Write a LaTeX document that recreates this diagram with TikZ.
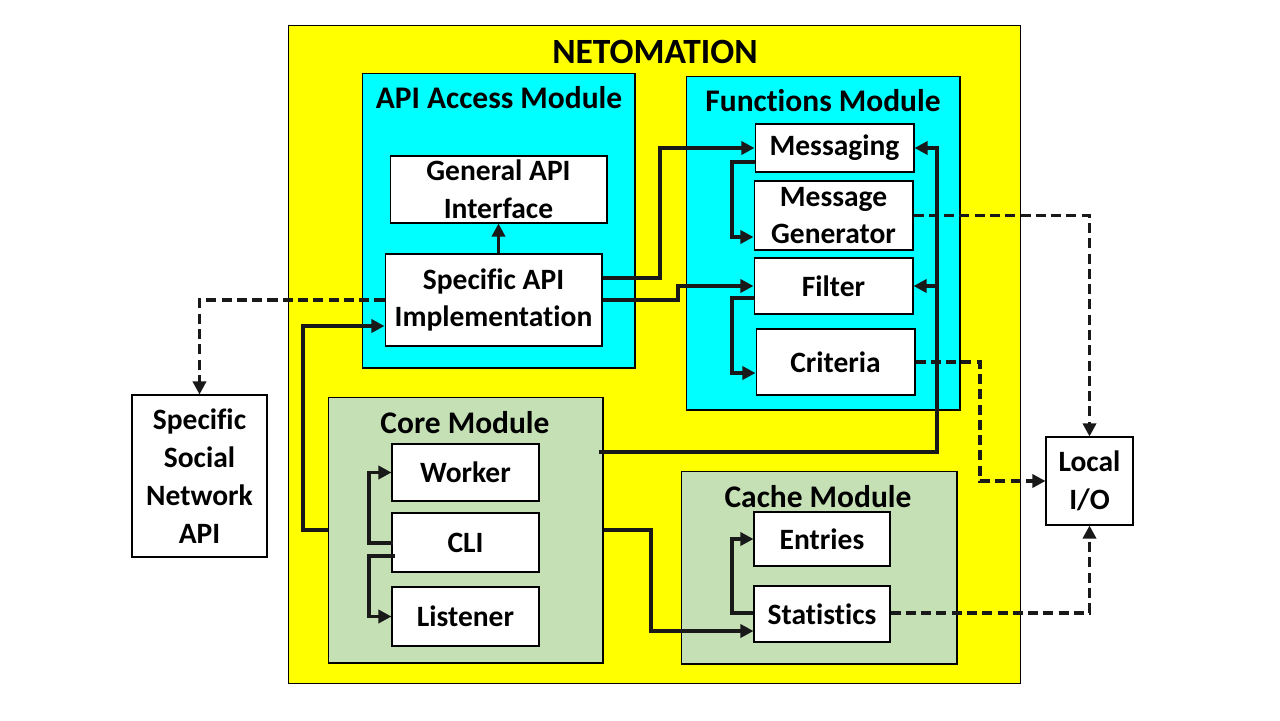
\documentclass[tikz,border=0pt]{standalone}
\usepackage{fontspec}
\setmainfont{Carlito}[Ligatures=NoCommon]
\usepackage{xcolor}
\usepackage{tikz}
\usetikzlibrary{arrows.meta, positioning}

\definecolor{netyellow}{HTML}{FFFF00}
\definecolor{netcyan}{HTML}{00FFFF}
\definecolor{netgreen}{HTML}{C5E0B4}

\newcommand{\compfont}{\bfseries\fontsize{16.8}{21.5}\selectfont}
\newcommand{\modfont}{\bfseries\fontsize{17.9}{21}\selectfont}
\newcommand{\topfont}{\bfseries\fontsize{20.2}{24}\selectfont}

\begin{document}
\begin{tikzpicture}[
    x=0.02cm, y=-0.02cm,
    frame/.style={rectangle, draw=black, line width=0.6pt, inner sep=0pt},
    module/.style={frame},
    comp/.style={rectangle, draw=black, line width=0.6pt, fill=white,
                 align=center, font=\compfont, inner sep=0pt},
    modtitle/.style={font=\modfont, inner sep=0pt},
    arr/.style={-{Triangle[length=7.5pt,width=7.5pt]}, line width=2.1pt, draw=black!90},
    darr/.style={arr, line width=1.9pt, dash pattern=on 5.7pt off 3pt},
]
\useasboundingbox (0,0) rectangle (1280,720);

% outer system
\node[frame, fill=netyellow, minimum width=14.66cm, minimum height=13.18cm] (netomation) at (654.5,354.5) {};
\node[font=\topfont, inner sep=0pt] (nettitle) at (655,52) {NETOMATION};

% API access module
\node[module, fill=netcyan, minimum width=5.46cm, minimum height=5.9cm] (apimod) at (498.5,220.5) {};
\node[modtitle] (apititle) at (499,98) {API Access Module};
\node[comp, minimum width=4.34cm, minimum height=1.34cm] (general) at (498.5,189.5) {General API\\Interface};
\node[comp, minimum width=4.34cm, minimum height=1.84cm] (specific) at (493.5,300) {Specific API\\Implementation};

% functions module
\node[module, fill=netcyan, minimum width=5.48cm, minimum height=6.68cm] (funcmod) at (823,243) {};
\node[modtitle] (functitle) at (823,101) {Functions Module};
\node[comp, minimum width=3.18cm, minimum height=0.96cm] (messaging) at (834.5,148) {Messaging};
\node[comp, minimum width=3.18cm, minimum height=1.38cm] (msggen) at (833.5,215.5) {Message\\Generator};
\node[comp, minimum width=3.18cm, minimum height=1.12cm] (filter) at (833.5,286) {Filter};
\node[comp, minimum width=3.18cm, minimum height=1.32cm] (criteria) at (835.5,362) {Criteria};

% core module
\node[module, fill=netgreen, minimum width=5.5cm, minimum height=5.32cm] (core) at (465.5,530) {};
\node[modtitle] (coretitle) at (465,423) {Core Module};
\node[comp, minimum width=2.94cm, minimum height=1.14cm] (worker) at (465.5,472.5) {Worker};
\node[comp, minimum width=2.94cm, minimum height=1.18cm] (cli) at (465.5,542.5) {CLI};
\node[comp, minimum width=2.94cm, minimum height=1.18cm] (listener) at (465.5,616.5) {Listener};

% cache module
\node[module, fill=netgreen, minimum width=5.52cm, minimum height=3.86cm] (cache) at (819,567.5) {};
\node[modtitle] (cachetitle) at (818,497) {Cache Module};
\node[comp, minimum width=2.72cm, minimum height=1.08cm] (entries) at (822,539) {Entries};
\node[comp, minimum width=2.72cm, minimum height=1.12cm] (statistics) at (822,614) {Statistics};

% outside
\node[comp, minimum width=1.74cm, minimum height=1.76cm] (localio) at (1089.5,481) {Local\\I/O};
\node[comp, minimum width=2.7cm, minimum height=3.24cm] (social) at (199.5,476) {Specific\\Social\\Network\\API};

% solid links
\draw[arr] (general.south |- specific.north) -- (general.south);
\draw[arr] (specific.east |- 0,278) -- (660,278) |- (messaging.west);
\draw[arr] (specific.east |- 0,300) -- (678,300) |- (filter.west);
\draw[arr] (messaging.west |- 0,162) -- (732,162) |- (msggen.west |- 0,237);
\draw[arr] (filter.west |- 0,298) -- (732,298) |- (criteria.west |- 0,373);
\draw[arr] ([xshift=-0.1cm]core.east |- 0,452) -- (937,452) |- (messaging.east);
\draw[arr] (937,286) -- (filter.east);
\draw[arr] (core.west |- 0,530) -- (303,530) |- (specific.west |- 0,326);
\draw[arr] ([xshift=0.04cm]cli.west |- 0,543) -- (369,543) |- (worker.west);
\draw[arr] ([xshift=0.08cm]cli.west |- 0,556) -- (369,556) |- (listener.west);
\draw[arr] (core.east |- 0,530) -- (651,530) |- (statistics.west |- 0,631);
\draw[arr] (statistics.west |- 0,613) -- (732,613) |- (entries.west);

% dashed links
\draw[darr] (statistics.east |- 0,613) -| (localio.south);
\draw[darr] (msggen.east) -| (localio.north);
\draw[darr] (criteria.east) -- (980,362) |- (localio.west);
\draw[darr] (specific.west) -| (social.north);
\end{tikzpicture}
\end{document}
